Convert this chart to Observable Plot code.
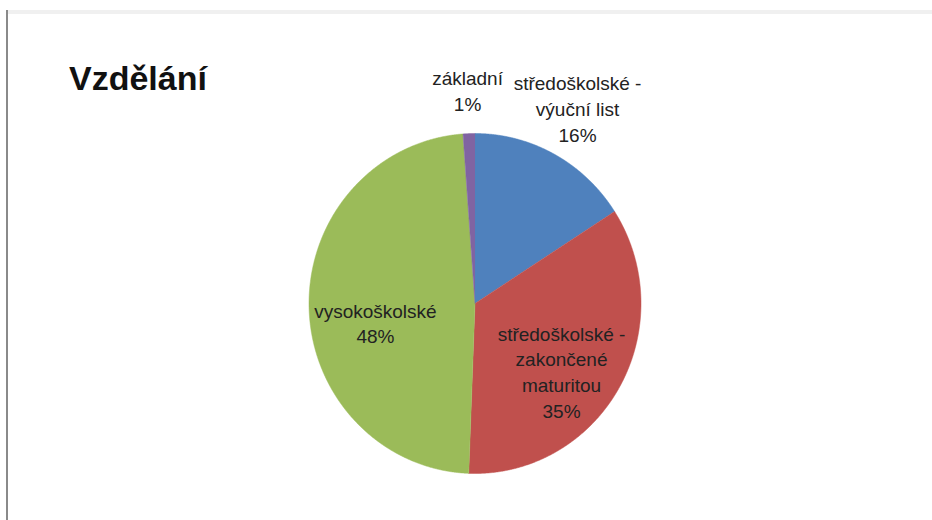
<!DOCTYPE html>
<html><head><meta charset="utf-8">
<script src="https://cdn.jsdelivr.net/npm/d3@7"></script>
<script src="https://cdn.jsdelivr.net/npm/@observablehq/plot@0.6"></script>
<style>
html,body{margin:0;padding:0;background:#fff;}
#wrap{position:relative;width:932px;height:520px;overflow:hidden;background:#fff;}
#topband{position:absolute;left:8px;top:10px;width:924px;height:4px;background:#f0f0f0;}
#leftline{position:absolute;left:6px;top:10px;width:2px;height:510px;background:#8a8a8a;}
#title{position:absolute;left:69px;top:61px;margin:0;font:bold 34px "Liberation Sans",Arial,sans-serif;line-height:34px;color:#111;}
#chart{position:absolute;left:0;top:0;}
</style></head>
<body>
<div id="wrap">
  <div id="topband"></div>
  <div id="leftline"></div>
  <div id="chart"></div>
  <h1 id="title">Vzdělání</h1>
</div>
<script>
// Data
const categories = ["středoškolské - výuční list", "středoškolské - zakončené maturitou", "vysokoškolské", "základní"];
const shares = [15.9, 34.7, 48.25, 1.15];
const labelLines = [["středoškolské -", "výuční list"], ["středoškolské -", "zakončené", "maturitou"], ["vysokoškolské"], ["základní"]];
const percentLabels = ["16%", "35%", "48%", "1%"];
const colors = ["#4F81BD", "#C0504D", "#9BBB59", "#8064A2"];

// Build slice polygons in unit-circle data space (angle clockwise from 12 o'clock)
const total = d3.sum(shares);
const slicePts = [];
const labels = [];
let cum = 0;
categories.forEach((cat, i) => {
  const a0 = cum / total * 2 * Math.PI;
  cum += shares[i];
  const a1 = cum / total * 2 * Math.PI;
  slicePts.push({category: cat, x: 0, y: 0});
  const n = Math.max(2, Math.ceil((a1 - a0) / (Math.PI / 720)));
  for (let k = 0; k <= n; k++) {
    const a = a0 + (a1 - a0) * k / n;
    slicePts.push({category: cat, x: Math.sin(a), y: Math.cos(a)});
  }
  const mid = (a0 + a1) / 2;
  const lines = [...labelLines[i], percentLabels[i]];
  const outside = shares[i] / total < 0.2;
  const r = outside ? 1.14 + 0.05 * lines.length : 0.6;
  labels.push({
    category: cat,
    text: lines.join("\n"),
    x: r * Math.sin(mid),
    y: r * Math.cos(mid),
    outside
  });
});

const chart = Plot.plot({
  width: 932,
  height: 520,
  margin: 0,
  style: {background: "transparent", fontFamily: "'Liberation Sans', Arial, sans-serif"},
  x: {domain: [-1, 1], range: [308.5, 640.5], axis: null},
  y: {domain: [-1, 1], range: [473, 133], axis: null},
  color: {domain: categories, range: colors},
  marks: [
    Plot.line(slicePts, {x: "x", y: "y", z: "category", fill: "category", stroke: "category", strokeWidth: 0.5, curve: "linear"}),
    Plot.text(labels.filter(d => d.outside), {x: "x", y: "y", text: "text", fontSize: 19, lineHeight: 1.37, fill: "#222", lineAnchor: "middle", dy: -3}),
    Plot.text(labels.filter(d => !d.outside), {x: "x", y: "y", text: "text", fontSize: 19, lineHeight: 1.35, fill: "#222", lineAnchor: "middle", dy: 17})
  ]
});
document.getElementById("chart").appendChild(chart);
</script>
</body></html>
